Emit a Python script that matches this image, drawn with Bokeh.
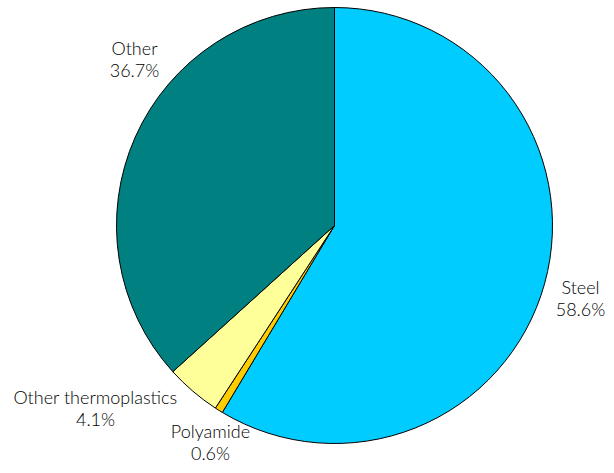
import math
from bokeh.plotting import figure
from bokeh.models import ColumnDataSource
from bokeh.core.properties import value
from bokeh.embed import file_html
from bokeh.resources import INLINE

# ---- data ----
categories = ["Steel", "Polyamide", "Other thermoplastics", "Other"]
shares = [58.6, 0.6, 4.1, 36.7]
colors = ["#00CCFF", "#FFCC00", "#FFFF99", "#008080"]
pct_labels = ["58.6%", "0.6%", "4.1%", "36.7%"]

# ---- layout ----
W, H = 606, 465
CX, CY, R = 334, 240, 218
# label anchor (name line centre) in plot coords
label_pos = {
    "Steel": (580, 179),
    "Polyamide": (210, 35),
    "Other thermoplastics": (95, 69),
    "Other": (134, 418),
}
LINE_GAP = 22

total = sum(shares)
starts, ends = [], []
cum = 0.0
for s in shares:
    a0 = math.pi / 2 - 2 * math.pi * cum / total
    cum += s
    a1 = math.pi / 2 - 2 * math.pi * cum / total
    starts.append(a1)
    ends.append(a0)

src = ColumnDataSource(dict(cat=categories, share=shares, color=colors,
                            start=starts, end=ends))

p = figure(width=W, height=H, x_range=(0, W), y_range=(0, H),
           output_backend="svg", toolbar_location=None,
           min_border=0, outline_line_color=None)
p.axis.visible = False
p.grid.visible = False
p.background_fill_color = "white"
p.border_fill_color = "white"

p.wedge(x=CX, y=CY, radius=R, start_angle="start", end_angle="end",
        fill_color="color", line_color="black", line_width=1, source=src)

names_x, names_y, pct_y = [], [], []
for c in categories:
    x, y = label_pos[c]
    names_x.append(x)
    names_y.append(y)
    pct_y.append(y - LINE_GAP)

lsrc = ColumnDataSource(dict(x=names_x, y=names_y, y2=pct_y,
                             name=categories, pct=pct_labels))
common = dict(text_align="center", text_baseline="middle",
              text_font=value("'Lato Light', Lato"), text_font_size="18px",
              text_color="#000000")
p.text(x="x", y="y", text="name", source=lsrc, **common)
p.text(x="x", y="y2", text="pct", source=lsrc, **common)

open("out.html", "w").write(file_html(p, INLINE))
